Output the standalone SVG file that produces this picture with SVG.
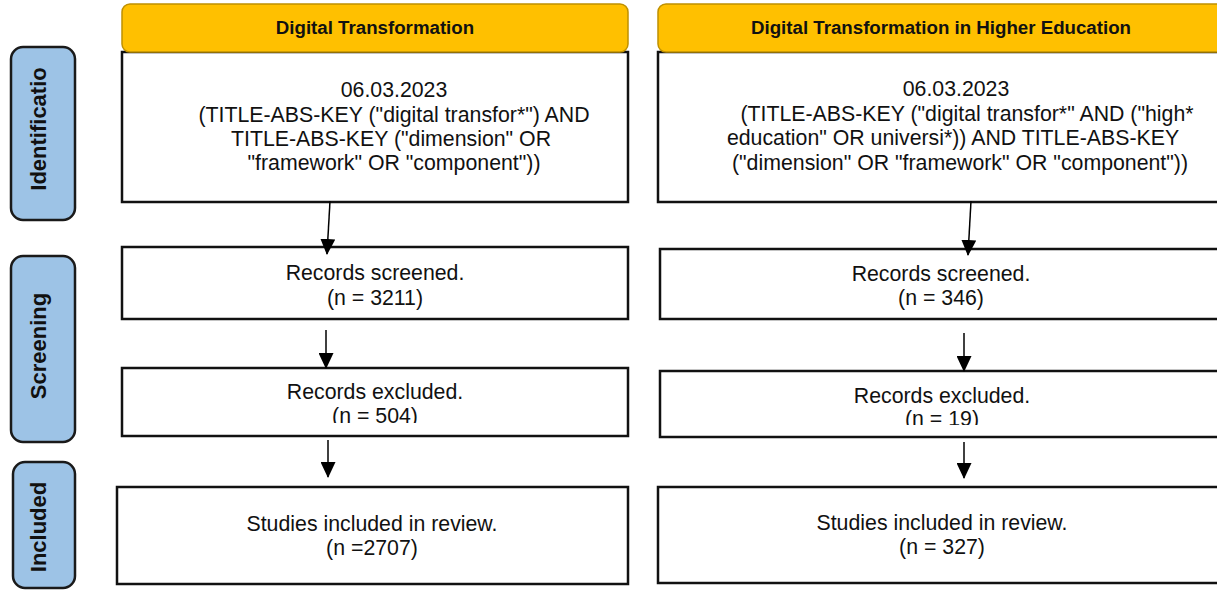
<svg xmlns="http://www.w3.org/2000/svg" width="1217" height="590" viewBox="0 0 1217 590">
<defs>
<style>
.hdr{fill:#FFC000;stroke:#BF9000;stroke-width:1.5}
.box{fill:#fff;stroke:#111;stroke-width:2.5}
.side{fill:#9DC3E6;stroke:#1a1a1a;stroke-width:2.5}
.t{font-family:"Liberation Sans",Arial,sans-serif;font-size:21.3px;fill:#111;text-anchor:middle}
.ht{font-family:"Liberation Sans",Arial,sans-serif;font-size:18.7px;font-weight:bold;fill:#111;text-anchor:middle}
.st{font-family:"Liberation Sans",Arial,sans-serif;font-size:22px;font-weight:bold;fill:#111;text-anchor:middle}
.conn{stroke:#000;stroke-width:1.5;fill:none;marker-end:url(#ah)}
</style>
<marker id="ah" markerUnits="userSpaceOnUse" markerWidth="16" markerHeight="15" viewBox="0 0 16 15" refX="15" refY="7.5" orient="auto">
<path d="M0,0 L16,7.5 L0,15 z" fill="#000"/>
</marker>
<clipPath id="clipL"><rect x="122" y="368" width="506" height="55"/></clipPath>
<clipPath id="clipR"><rect x="660" y="371" width="600" height="54"/></clipPath>
</defs>

<g id="side-identification">
<rect class="side" x="11" y="47" width="64" height="173" rx="12"/>
<text class="st" transform="translate(46,129) rotate(-90)">Identificatio</text>
</g>
<g id="side-screening">
<rect class="side" x="11" y="256" width="64" height="186" rx="12"/>
<text class="st" transform="translate(46,346) rotate(-90)">Screening</text>
</g>
<g id="side-included">
<rect class="side" x="13" y="462" width="62" height="126" rx="12"/>
<text class="st" transform="translate(46,527) rotate(-90)">Included</text>
</g>

<g id="left-identification">
<rect class="box" x="122" y="52" width="506" height="150"/>
<text class="t" x="394" y="97">06.03.2023</text>
<text class="t" x="394" y="122">(TITLE-ABS-KEY ("digital transfor*") AND</text>
<text class="t" x="391" y="146">TITLE-ABS-KEY ("dimension" OR</text>
<text class="t" x="394" y="170">"framework" OR "component"))</text>
</g>
<g id="left-header">
<rect class="hdr" x="122" y="4" width="506" height="48" rx="8"/>
<text class="ht" x="375" y="34">Digital Transformation</text>
</g>

<g id="right-identification">
<rect class="box" x="658" y="52" width="600" height="150"/>
<text class="t" x="956" y="96">06.03.2023</text>
<text class="t" x="967" y="121">(TITLE-ABS-KEY ("digital transfor*" AND ("high*</text>
<text class="t" x="953" y="145">education" OR universi*)) AND TITLE-ABS-KEY</text>
<text class="t" x="960" y="170">("dimension" OR "framework" OR "component"))</text>
</g>
<g id="right-header">
<rect class="hdr" x="658" y="4" width="600" height="48" rx="8"/>
<text class="ht" x="941" y="34">Digital Transformation in Higher Education</text>
</g>

<g id="left-screened">
<rect class="box" x="122" y="247" width="506" height="72"/>
<text class="t" x="375" y="280">Records screened.</text>
<text class="t" x="375" y="305">(n = 3211)</text>
</g>
<g id="right-screened">
<rect class="box" x="660" y="249" width="600" height="70"/>
<text class="t" x="941" y="281">Records screened.</text>
<text class="t" x="941" y="305">(n = 346)</text>
</g>

<g id="left-excluded">
<rect class="box" x="122" y="368" width="506" height="68"/>
<g clip-path="url(#clipL)">
<text class="t" x="375" y="399">Records excluded.</text>
<text class="t" x="375" y="423">(n = 504)</text>
</g>
</g>
<g id="right-excluded">
<rect class="box" x="660" y="371" width="600" height="66"/>
<g clip-path="url(#clipR)">
<text class="t" x="942" y="403">Records excluded.</text>
<text class="t" x="942" y="426">(n = 19)</text>
</g>
</g>

<g id="left-included">
<rect class="box" x="117" y="487" width="511" height="97"/>
<text class="t" x="372" y="531">Studies included in review.</text>
<text class="t" x="372" y="555">(n =2707)</text>
</g>
<g id="right-included">
<rect class="box" x="658" y="487" width="600" height="96"/>
<text class="t" x="942" y="530">Studies included in review.</text>
<text class="t" x="942" y="554">(n = 327)</text>
</g>

<g id="connectors">
<line class="conn" x1="330" y1="201" x2="327" y2="254"/>
<line class="conn" x1="971" y1="201" x2="968" y2="255"/>
<line class="conn" x1="326" y1="330" x2="326" y2="368"/>
<line class="conn" x1="964" y1="333" x2="964" y2="371"/>
<line class="conn" x1="328" y1="440" x2="328" y2="477"/>
<line class="conn" x1="964" y1="442" x2="964" y2="478"/>
</g>
</svg>
